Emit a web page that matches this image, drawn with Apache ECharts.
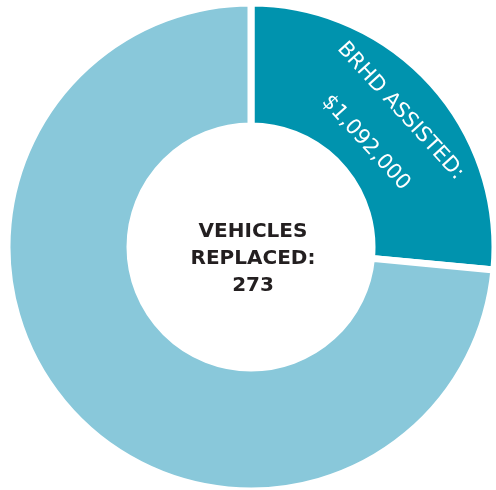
<!DOCTYPE html>
<html>
<head>
<meta charset="utf-8">
<script src="https://cdn.jsdelivr.net/npm/echarts@6/dist/echarts.min.js"></script>
<style>
  html, body { margin: 0; padding: 0; background: #fff; }
  #chart { width: 496px; height: 490px; }
</style>
</head>
<body>
<div id="chart"></div>
<script>
// slice shares (dark slice ends just past 3 o'clock)
const categories = ["BRHD ASSISTED", "Other"];
const shares = [26.5, 73.5];
const sliceLabels = ["BRHD ASSISTED:", "$1,092,000"];
const centerLines = ["VEHICLES", "REPLACED:", "273"];

const COLORS = ["#0093ae", "#89c8da"];

const chart = echarts.init(document.getElementById("chart"));

chart.setOption({
  animation: false,
  graphic: [
    {
      type: "text",
      x: 253,
      y: 259,
      style: {
        text: centerLines.join("\n"),
        fill: "#231f20",
        font: "bold 20px 'DejaVu Sans'",
        lineHeight: 27,
        align: "center",
        verticalAlign: "middle",
      },
    },
  ],
  series: [
    {
      type: "pie",
      center: [251, 247],
      radius: [121, 244],
      startAngle: 90,
      clockwise: true,
      avoidLabelOverlap: false,
      itemStyle: {
        borderColor: "#ffffff",
        borderWidth: 7,
      },
      emphasis: { disabled: true },
      labelLine: { show: false },
      data: categories.map((name, i) => ({
        name,
        value: shares[i],
        itemStyle: { color: COLORS[i] },
        label:
          i === 0
            ? {
                show: true,
                position: "inside",
                rotate: "tangential",
                padding: [14, 0, 0, 0],
                formatter: "{a|" + sliceLabels[0] + "}\n{b|" + sliceLabels[1] + "}",
                rich: {
                  a: {
                    color: "#ffffff",
                    fontFamily: "DejaVu Sans",
                    fontSize: 21,
                    lineHeight: 47,
                  },
                  b: {
                    color: "#ffffff",
                    fontFamily: "DejaVu Sans",
                    fontSize: 21,
                    lineHeight: 47,
                  },
                },
              }
            : { show: false },
      })),
    },
  ],
});
</script>
</body>
</html>
